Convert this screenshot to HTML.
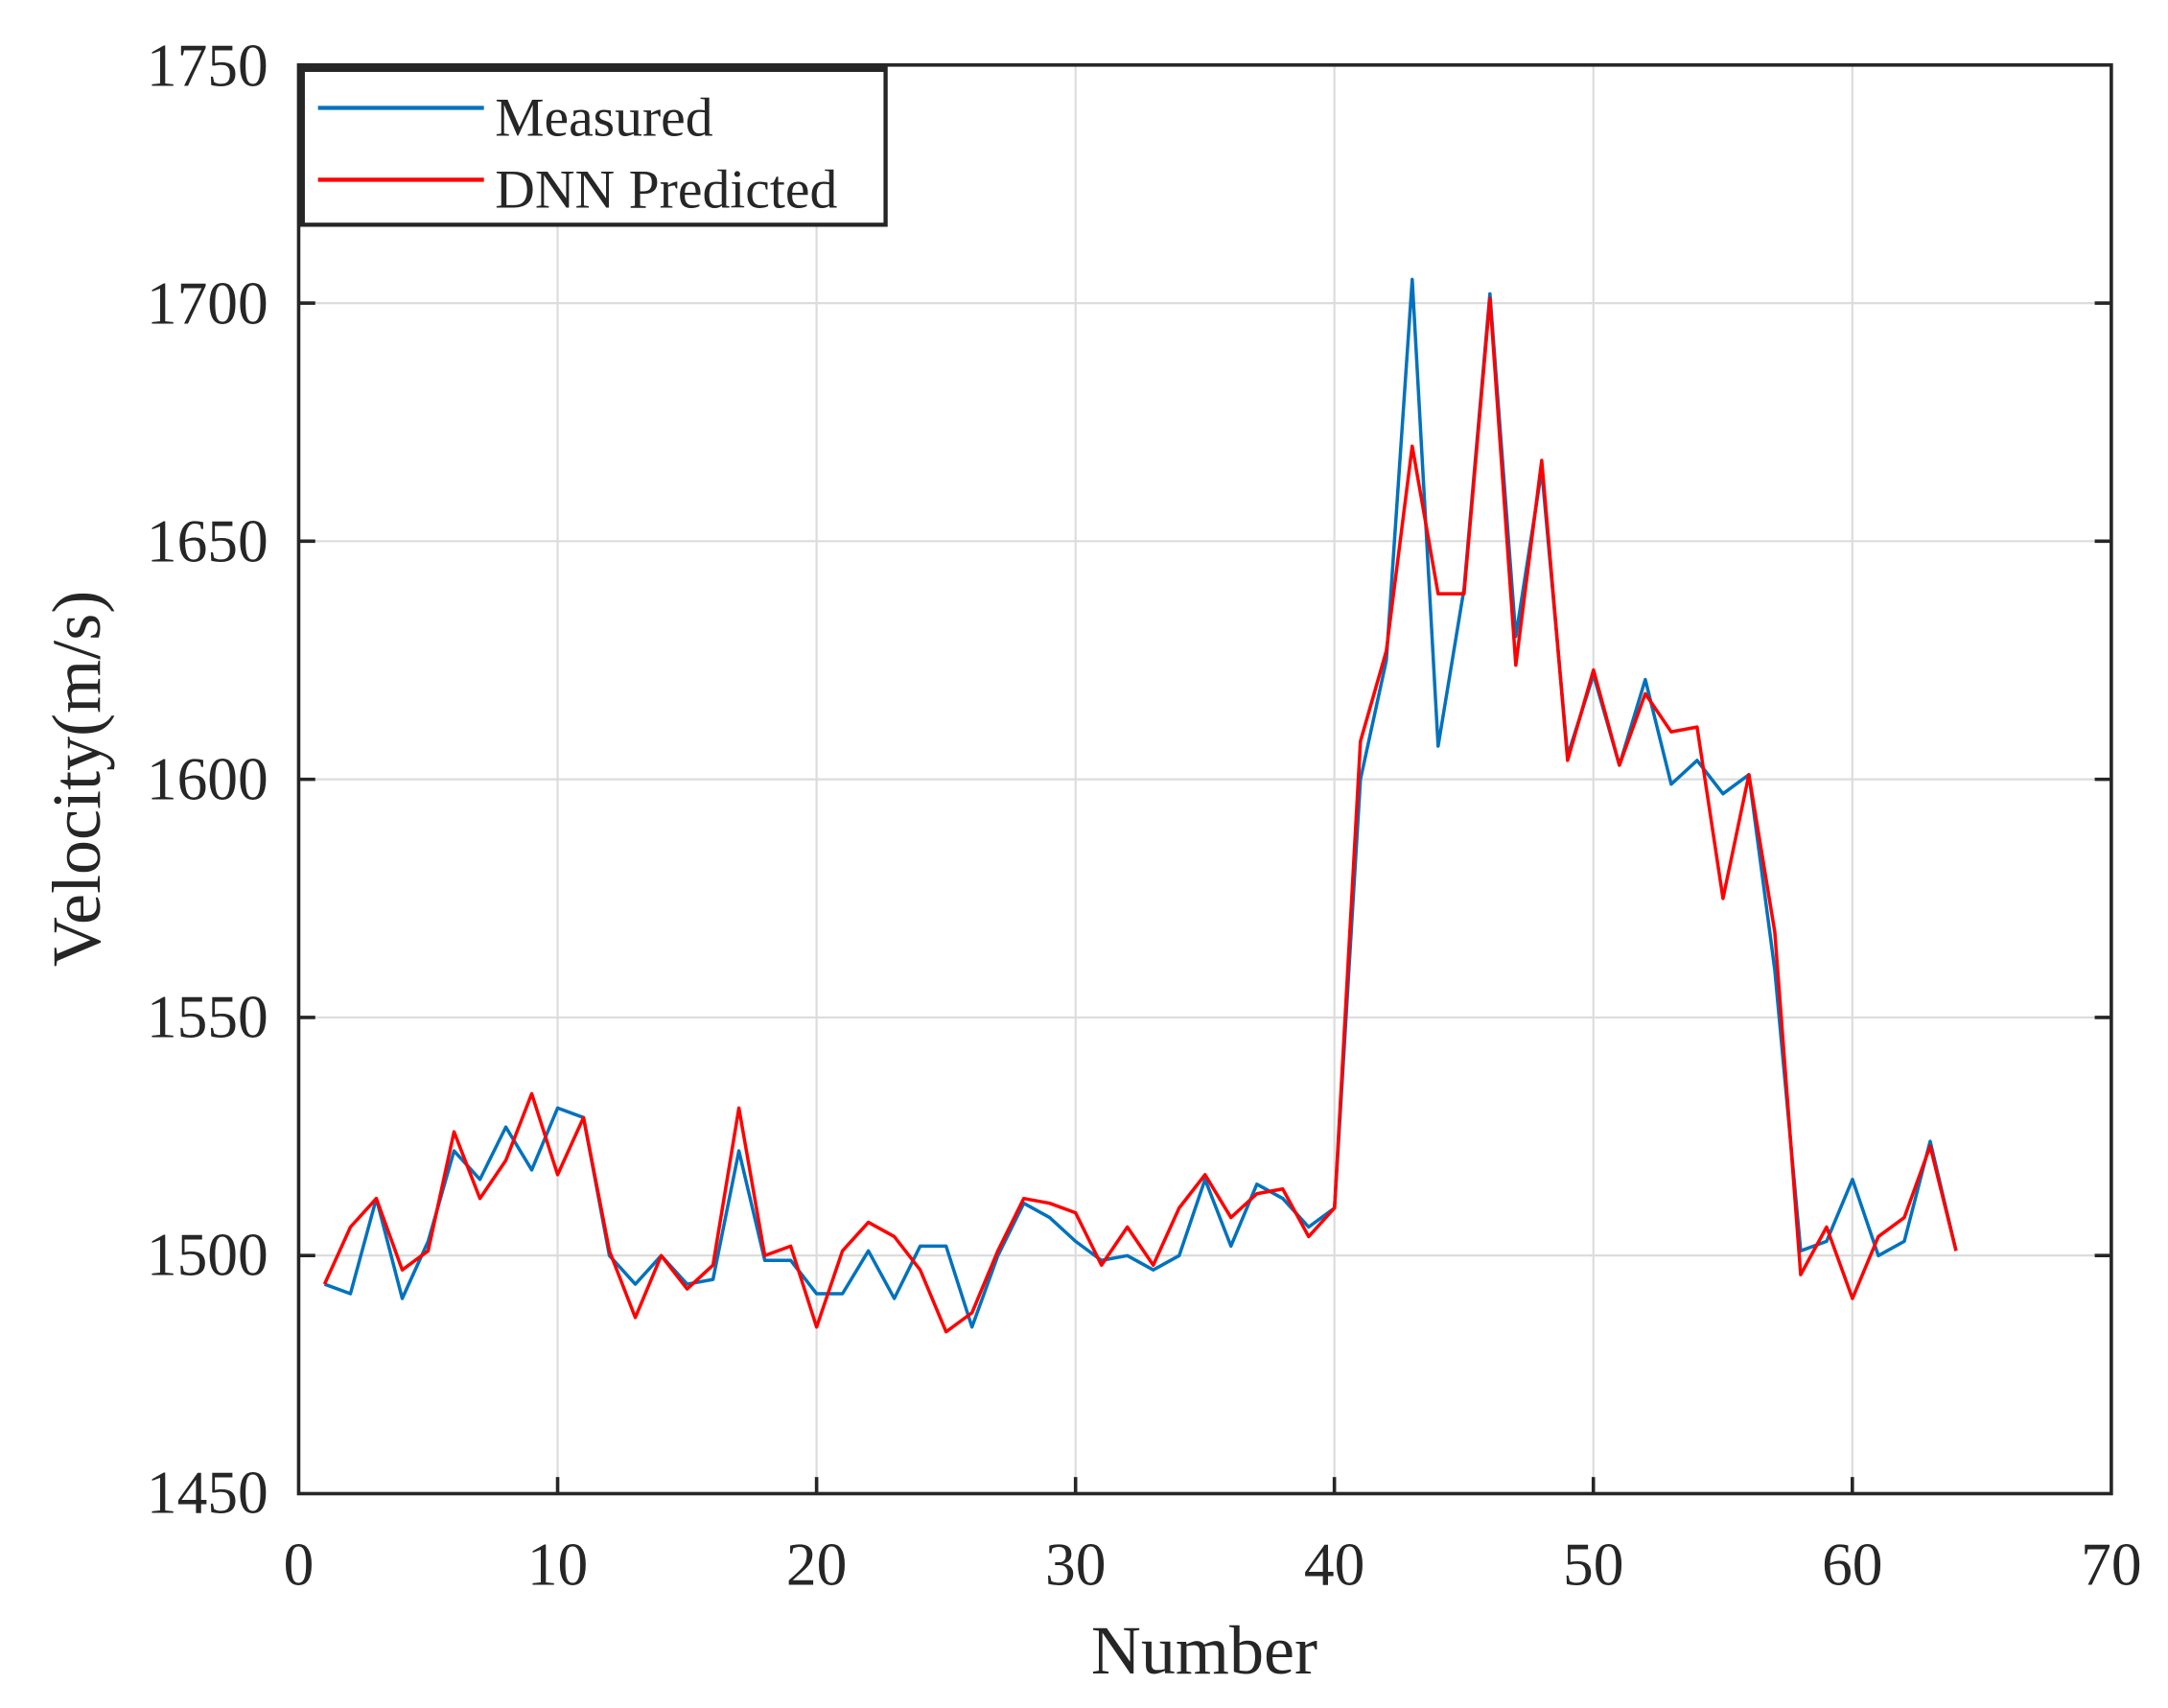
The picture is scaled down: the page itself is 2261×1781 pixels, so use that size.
<!DOCTYPE html>
<html><head><meta charset="utf-8"><style>
html,body{margin:0;padding:0;background:#fff}
svg{display:block}
text{font-family:"Liberation Serif",serif;fill:#262626}
</style></head><body>
<svg width="2261" height="1781" viewBox="0 0 1568 1235" preserveAspectRatio="none" xmlns="http://www.w3.org/2000/svg">
<rect width="1568" height="1235" fill="#fff"/>
<g stroke="#dcdcdc" stroke-width="1.5">
<line x1="403.3" y1="47" x2="403.3" y2="1080"/><line x1="590.6" y1="47" x2="590.6" y2="1080"/>
<line x1="777.9" y1="47" x2="777.9" y2="1080"/><line x1="965.1" y1="47" x2="965.1" y2="1080"/>
<line x1="1152.4" y1="47" x2="1152.4" y2="1080"/><line x1="1339.7" y1="47" x2="1339.7" y2="1080"/>
<line x1="216" y1="219.2" x2="1527" y2="219.2"/><line x1="216" y1="391.3" x2="1527" y2="391.3"/>
<line x1="216" y1="563.5" x2="1527" y2="563.5"/><line x1="216" y1="735.7" x2="1527" y2="735.7"/>
<line x1="216" y1="907.8" x2="1527" y2="907.8"/>
</g>
<g stroke="#262626" stroke-width="2.5">
<line x1="403.3" y1="1080" x2="403.3" y2="1068"/><line x1="590.6" y1="1080" x2="590.6" y2="1068"/>
<line x1="777.9" y1="1080" x2="777.9" y2="1068"/><line x1="965.1" y1="1080" x2="965.1" y2="1068"/>
<line x1="1152.4" y1="1080" x2="1152.4" y2="1068"/><line x1="1339.7" y1="1080" x2="1339.7" y2="1068"/>
<line x1="216" y1="219.2" x2="228" y2="219.2"/><line x1="216" y1="391.3" x2="228" y2="391.3"/>
<line x1="216" y1="563.5" x2="228" y2="563.5"/><line x1="216" y1="735.7" x2="228" y2="735.7"/>
<line x1="216" y1="907.8" x2="228" y2="907.8"/>
<line x1="1527" y1="219.2" x2="1515" y2="219.2"/><line x1="1527" y1="391.3" x2="1515" y2="391.3"/>
<line x1="1527" y1="563.5" x2="1515" y2="563.5"/><line x1="1527" y1="735.7" x2="1515" y2="735.7"/>
<line x1="1527" y1="907.8" x2="1515" y2="907.8"/>
</g>
<g fill="none" stroke-width="3.5" stroke-linejoin="round" transform="matrix(18.73 0 0 -3.443 216 6072.4)">
<polyline vector-effect="non-scaling-stroke" stroke="#0072bd" points="1,1494 2,1492 3,1512 4,1491 5,1503 6,1522 7,1516 8,1527 9,1518 10,1531 11,1529 12,1500 13,1494 14,1500 15,1494 16,1495 17,1522 18,1499 19,1499 20,1492 21,1492 22,1501 23,1491 24,1502 25,1502 26,1485 27,1500 28,1511 29,1508 30,1503 31,1499 32,1500 33,1497 34,1500 35,1516 36,1502 37,1515 38,1512 39,1506 40,1510 41,1600 42,1625 43,1705 44,1607 45,1640 46,1702 47,1630 48,1665 49,1605 50,1622 51,1603 52,1621 53,1599 54,1604 55,1597 56,1601 57,1560 58,1501 59,1503 60,1516 61,1500 62,1503 63,1524 64,1501"/>
<polyline vector-effect="non-scaling-stroke" stroke="#ff0000" points="1,1494 2,1506 3,1512 4,1497 5,1501 6,1526 7,1512 8,1520 9,1534 10,1517 11,1529 12,1501 13,1487 14,1500 15,1493 16,1498 17,1531 18,1500 19,1502 20,1485 21,1501 22,1507 23,1504 24,1497 25,1484 26,1488 27,1501 28,1512 29,1511 30,1509 31,1498 32,1506 33,1498 34,1510 35,1517 36,1508 37,1513 38,1514 39,1504 40,1510 41,1608 42,1627 43,1670 44,1639 45,1639 46,1701 47,1624 48,1667 49,1604 50,1623 51,1603 52,1618 53,1610 54,1611 55,1575 56,1601 57,1568 58,1496 59,1506 60,1491 61,1504 62,1508 63,1523 64,1501"/>
</g>
<rect x="216" y="47" width="1311" height="1033" fill="none" stroke="#262626" stroke-width="2.5"/>
<rect x="217.5" y="48.5" width="423" height="114" fill="#fff" stroke="#262626" stroke-width="3"/>
<line x1="216" y1="49" x2="641" y2="49" stroke="#262626" stroke-width="6"/>
<line x1="218" y1="47" x2="218" y2="163" stroke="#262626" stroke-width="5"/>
<line x1="230" y1="78" x2="350" y2="78" stroke="#0072bd" stroke-width="3"/>
<line x1="230" y1="130" x2="350" y2="130" stroke="#ff0000" stroke-width="3"/>
<text x="358" y="98" font-size="40">Measured</text>
<text x="358" y="150" font-size="40">DNN Predicted</text>
<g font-size="44" text-anchor="end">
<text x="194" y="62">1750</text><text x="194" y="234">1700</text><text x="194" y="406">1650</text>
<text x="194" y="578">1600</text><text x="194" y="750">1550</text><text x="194" y="922">1500</text>
<text x="194" y="1094">1450</text>
</g>
<g font-size="44" text-anchor="middle">
<text x="216" y="1146">0</text><text x="403.3" y="1146">10</text><text x="590.6" y="1146">20</text>
<text x="777.9" y="1146">30</text><text x="965.1" y="1146">40</text><text x="1152.4" y="1146">50</text>
<text x="1339.7" y="1146">60</text><text x="1527" y="1146">70</text>
<text x="871" y="1210" font-size="50">Number</text>
<text transform="translate(72 563) rotate(-90)" font-size="50">Velocity(m/s)</text>
</g>
</svg>
</body></html>
